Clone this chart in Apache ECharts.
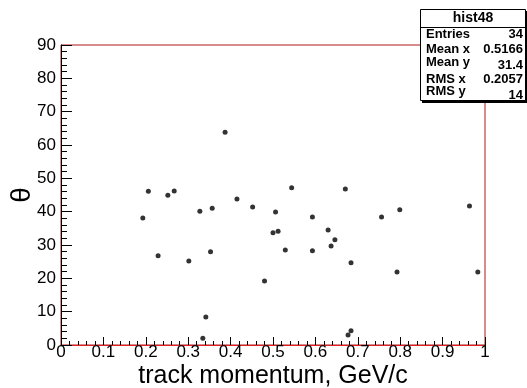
<!DOCTYPE html>
<html>
<head>
<meta charset="utf-8">
<script src="https://cdn.jsdelivr.net/npm/echarts@6/dist/echarts.min.js"></script>
<style>html,body{margin:0;padding:0;background:#fff}#c{width:527px;height:388px}</style>
</head>
<body>
<div id="c"></div>
<script>
// Data
var xValues = [0.193,0.206,0.229,0.252,0.267,0.3015,0.3275,0.3345,0.3416,0.3527,0.3566,0.387,0.415,0.452,0.480,0.500,0.506,0.512,0.529,0.544,0.593,0.593,0.630,0.637,0.646,0.6706,0.677,0.684,0.684,0.756,0.7925,0.799,0.9634,0.983];
var yValues = [38.1,46.1,26.8,44.9,46.2,25.2,40.1,2.0,8.4,28.0,41.0,63.8,43.8,41.4,19.2,33.7,39.9,34.1,28.5,47.2,38.4,28.3,34.5,29.7,31.6,46.8,3.0,24.7,4.3,38.4,21.9,40.6,41.7,21.9];
var xTicks = [0,0.1,0.2,0.3,0.4,0.5,0.6,0.7,0.8,0.9,1];
var yTicks = [0,10,20,30,40,50,60,70,80,90];
var statTitle = 'hist48';
var statLabels = ['Entries','Mean x','Mean y','RMS x','RMS y'];
var statValues = ['34','0.5166','31.4','0.2057','14'];
var xTitle = 'track momentum, GeV/c';
var yTitle = 'θ';

var pts = xValues.map(function(x,i){return [x,yValues[i]];});
var font = '"Liberation Sans", Arial, Helvetica, sans-serif';

var labelRowsY = [34,49,62,79,91];
var valueRowsY = [34,49,65,79,95];
var graphics = [
  {type:'rect', shape:{x:422,y:11,width:105,height:92}, style:{fill:'#000'}, z:10},
  {type:'rect', shape:{x:420.5,y:9.5,width:105,height:91}, style:{fill:'#fff',stroke:'#000',lineWidth:1}, z:11},
  {type:'line', shape:{x1:420,y1:27.5,x2:525,y2:27.5}, style:{stroke:'#000',lineWidth:1}, z:12},
  {type:'text', x:473, y:18, style:{text:statTitle, font:'bold 14px '+font, fill:'#000', textAlign:'center', textVerticalAlign:'middle'}, z:12}
];
statLabels.forEach(function(l,i){
  graphics.push({type:'text', x:426, y:labelRowsY[i], style:{text:l, font:'bold 13px '+font, fill:'#000', textAlign:'left', textVerticalAlign:'middle'}, z:12});
  graphics.push({type:'text', x:523, y:valueRowsY[i], style:{text:statValues[i], font:'bold 13px '+font, fill:'#000', textAlign:'right', textVerticalAlign:'middle'}, z:12});
});

var chart = echarts.init(document.getElementById('c'), null, {renderer:'canvas'});
chart.setOption({
  animation:false,
  backgroundColor:'#fff',
  textStyle:{fontFamily:font},
  grid:{left:61, top:45, right:42, bottom:43, containLabel:false, outerBoundsMode:'none',
    show:true, borderColor:'#b01818', borderWidth:1, backgroundColor:'#fff'},
  xAxis:{
    type:'value', min:xTicks[0], max:xTicks[xTicks.length-1], interval:0.1,
    name:xTitle, nameLocation:'middle', nameGap:19, nameMoveOverlap:false,
    nameTextStyle:{fontSize:25, color:'#000', fontFamily:font},
    axisLine:{show:true, onZero:false, lineStyle:{color:'#e02020', width:1}},
    axisTick:{show:true, inside:true, length:8, lineStyle:{color:'#000'}},
    minorTick:{show:true, splitNumber:5, length:4, lineStyle:{color:'#000'}},
    splitLine:{show:false},
    axisLabel:{fontSize:17, color:'#000', margin:-1, showMaxLabel:true, showMinLabel:true,
      formatter:function(v){return String(Math.round(v*10)/10);}}
  },
  yAxis:{
    type:'value', min:yTicks[0], max:yTicks[yTicks.length-1], interval:10,
    name:yTitle, nameLocation:'middle', nameGap:25, nameRotate:90, nameMoveOverlap:false,
    nameTextStyle:{fontSize:28, color:'#000', fontFamily:font},
    axisLine:{show:true, onZero:false, lineStyle:{color:'#000', width:1}},
    axisTick:{show:true, inside:true, length:11, lineStyle:{color:'#000'}},
    minorTick:{show:true, splitNumber:5, length:6, lineStyle:{color:'#000'}},
    splitLine:{show:false},
    axisLabel:{fontSize:17, color:'#000', margin:5}
  },
  series:[{
    type:'scatter', data:pts, symbol:'circle', symbolSize:5,
    itemStyle:{color:'#000'}, clip:false
  }],
  graphic:graphics
});
</script>
</body>
</html>
